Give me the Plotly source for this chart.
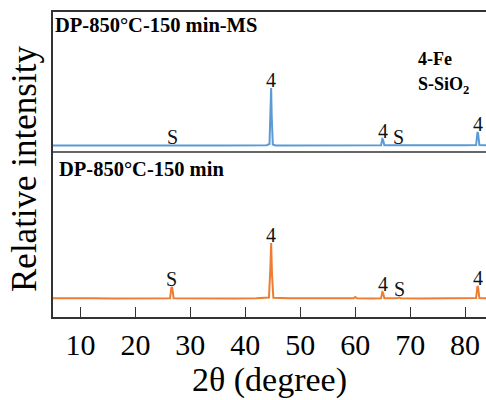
import plotly.graph_objects as go

# ---- data ----
two_theta_ms = [5, 8, 12, 16, 20, 24, 28, 32, 36, 40, 43.9, 44.4, 44.6, 44.7, 44.8, 45.0, 45.5, 50, 55, 60, 63,
                64.7, 64.95, 65.05, 65.3, 68, 72, 76, 80, 82.0, 82.25, 82.35, 82.6, 84]
intensity_ms = [0.6, 0.4, 0.7, 0.5, 0.6, 0.8, 0.6, 0.5, 0.6, 0.7, 0.8, 2.0, 40, 58, 30, 1.5, 0.6, 0.5, 0.6, 0.8, 0.5,
                0.8, 7, 6.5, 0.8, 0.7, 0.5, 0.6, 0.7, 1.0, 14, 13, 1.0, 0.6]

two_theta_dp = [5, 8, 12, 16, 20, 21, 24, 26.3, 26.55, 26.7, 26.95, 30, 34, 38, 42, 44.3, 44.55, 44.7, 44.85, 45.1,
                48, 52, 56, 59.7, 60.0, 60.3, 63, 64.7, 64.95, 65.05, 65.3, 67.7, 68.0, 68.3, 72, 76, 80, 82.0,
                82.25, 82.35, 82.6, 84]
intensity_dp = [0.8, 0.5, 0.8, 0.6, 0.7, 1.2, 0.6, 0.8, 12, 11, 0.8, 0.6, 0.7, 0.6, 0.8, 1.5, 30, 56, 25, 1.2,
                0.7, 0.6, 0.7, 0.8, 2.0, 0.8, 0.6, 0.8, 7, 6.5, 0.8, 0.8, 1.6, 0.8, 0.6, 0.7, 0.6, 1.0,
                13, 12, 1.0, 0.7]

peak_pos = [26.8, 44.7, 65.0, 67.9, 82.3]
peak_lbl = ["S", "4", "4", "S", "4"]
peak_h_ms = [0.6, 58, 7, 0.7, 14]
peak_h_dp = [12, 56, 7, 1.6, 13]
peak_pos_dp = [26.6, 44.7, 65.0, 68.0, 82.3]

labels = ["DP-850°C-150 min-MS", "DP-850°C-150 min"]
legend_lines = ["4-Fe", "S-SiO<sub>2</sub>"]
x_ticks = [10, 20, 30, 40, 50, 60, 70, 80]
x_title = "2θ (degree)"
y_title = "Relative intensity"

# ---- layout constants ----
OFF_MS = 171
OFF_DP = 18
DIVIDER = 165
FONT = "Times New Roman, Liberation Serif, Tinos, serif"
BLUE = "#5B9BD5"
ORANGE = "#ED7D31"

fig = go.Figure()
fig.add_trace(go.Scatter(x=two_theta_ms, y=[v + OFF_MS for v in intensity_ms], mode="lines",
                         line=dict(color=BLUE, width=2), showlegend=False))
fig.add_trace(go.Scatter(x=two_theta_dp, y=[v + OFF_DP for v in intensity_dp], mode="lines",
                         line=dict(color=ORANGE, width=2), showlegend=False))

anns = []
for p, l, h in zip(peak_pos, peak_lbl, peak_h_ms):
    anns.append(dict(x=p, y=h + OFF_MS, text=l, showarrow=False, yanchor="bottom",
                     font=dict(family=FONT, size=20, color="#111"), yshift=-5))
for p, l, h in zip(peak_pos_dp, peak_lbl, peak_h_dp):
    anns.append(dict(x=p, y=h + OFF_DP, text=l, showarrow=False, yanchor="bottom",
                     font=dict(family=FONT, size=20, color="#111"), yshift=-5))
anns.append(dict(x=0.0, xref="paper", xshift=0, y=292, text="<b>" + labels[0] + "</b>", showarrow=False,
                 xanchor="left", yanchor="middle", font=dict(family=FONT, size=20.5, color="#000")))
anns.append(dict(x=0.0, xref="paper", xshift=4, y=148, text="<b>" + labels[1] + "</b>", showarrow=False,
                 xanchor="left", yanchor="middle", font=dict(family=FONT, size=20.5, color="#000")))
anns.append(dict(x=71.0, y=258, text="<b>" + legend_lines[0] + "</b>", showarrow=False,
                 xanchor="left", yanchor="middle", font=dict(family=FONT, size=18, color="#000")))
anns.append(dict(x=71.0, y=232, text="<b>" + legend_lines[1] + "</b>", showarrow=False,
                 xanchor="left", yanchor="middle", font=dict(family=FONT, size=18, color="#000")))
anns.append(dict(x=0.0, xref="paper", xshift=-29, y=148, text=y_title, textangle=-90, showarrow=False,
                 xanchor="center", yanchor="middle", font=dict(family=FONT, size=35, color="#000")))

fig.update_layout(
    width=486, height=400,
    margin=dict(l=53, r=0, t=12, b=83),
    paper_bgcolor="white", plot_bgcolor="white",
    annotations=anns,
    shapes=[dict(type="line", xref="paper", x0=0, x1=1, y0=DIVIDER, y1=DIVIDER,
                 line=dict(color="#333", width=1.5))],
    xaxis=dict(range=[5, 83.8], tickvals=x_ticks, ticks="inside", ticklen=10, tickwidth=1.2,
               tickcolor="#333", showline=True, linecolor="#333", linewidth=1.5, mirror=True,
               showgrid=False, zeroline=False,
               tickfont=dict(family=FONT, size=30, color="#000"),
               title=dict(text=x_title, font=dict(family=FONT, size=34, color="#000"), standoff=5)),
    yaxis=dict(range=[0, 305], showticklabels=False, ticks="", showline=True, linecolor="#333",
               linewidth=1.5, showgrid=False, zeroline=False),
)

fig.write_html("out.html")
